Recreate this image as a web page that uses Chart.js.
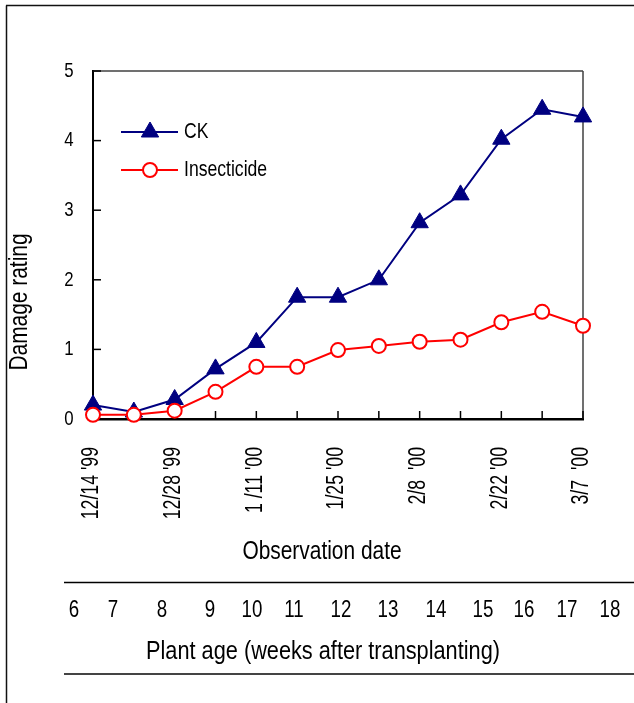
<!DOCTYPE html>
<html><head><meta charset="utf-8">
<script src="https://cdn.jsdelivr.net/npm/chart.js@4.4.1/dist/chart.umd.min.js"></script>
<style>html,body{margin:0;padding:0;background:#fff}canvas{display:block}</style>
</head><body>
<canvas id="c" width="634" height="703"></canvas>
<script>
// ---- data ----
const dates = ["12/14 '99","12/21 '99","12/28 '99","1/4 '00","1 /11 '00","1/18 '00","1/25 '00","2/1 '00","2/8  '00","2/15 '00","2/22 '00","2/29 '00","3/7  '00"];
const ckValues = [0.2, 0.1, 0.28, 0.72, 1.1, 1.75, 1.75, 2.0, 2.82, 3.22, 4.02, 4.45, 4.34];
const insecticideValues = [0.06, 0.06, 0.12, 0.39, 0.75, 0.75, 0.99, 1.05, 1.11, 1.14, 1.39, 1.54, 1.34];
const plantAges = ["6","7","8","9","10","11","12","13","14","15","16","17","18"];
const seriesNames = ["CK", "Insecticide"];
const yMin = 0, yMax = 5, yStep = 1;

const FONT = '"Liberation Sans", Arial, sans-serif';
function txt(ctx, s, x, y, size, align, rot, sx) {
  ctx.save();
  ctx.translate(x, y);
  if (rot) ctx.rotate(rot);
  ctx.scale(sx || 0.82, 1);
  ctx.font = size + 'px ' + FONT;
  ctx.fillStyle = '#000';
  ctx.textAlign = align;
  ctx.textBaseline = 'middle';
  ctx.fillText(s, 0, 0);
  ctx.restore();
}
function line(ctx, x1, y1, x2, y2, w, c) {
  ctx.save();
  ctx.beginPath();
  ctx.moveTo(x1, y1); ctx.lineTo(x2, y2);
  ctx.lineWidth = w; ctx.strokeStyle = c; ctx.stroke();
  ctx.restore();
}

const decor = {
  id: 'decor',
  beforeDatasetsDraw(chart) {
    const ctx = chart.ctx, a = chart.chartArea;
    const xs = chart.scales.x, ys = chart.scales.y;
    line(ctx, a.left, a.top, a.right, a.top, 1.5, '#404040');
    line(ctx, a.right, a.top, a.right, a.bottom, 1.5, '#404040');
    ys.ticks.forEach(t => {
      const py = ys.getPixelForValue(t.value);
      line(ctx, a.left, py, a.left + 8, py, 1.5, '#000');
    });
    dates.forEach((d, i) => {
      const px = xs.getPixelForValue(i);
      line(ctx, px, a.bottom, px, a.bottom - 8, 1.5, '#000');
    });
  },
  afterDraw(chart) {
    const ctx = chart.ctx, a = chart.chartArea;
    const xs = chart.scales.x, ys = chart.scales.y;
    ys.ticks.forEach(t => {
      txt(ctx, String(t.value), a.left - 19.5, ys.getPixelForValue(t.value), 21, 'right', 0, 0.8);
    });
    dates.forEach((d, i) => {
      if (i % 2 === 0) txt(ctx, d, xs.getPixelForValue(i) - 1, a.bottom + 28, 23, 'right', -Math.PI / 2, 0.77);
    });
    txt(ctx, 'Damage rating', 20, 302, 25.5, 'center', -Math.PI / 2, 0.82);
    txt(ctx, 'Observation date', 322, 552, 25.5, 'center', 0, 0.82);
    const ageX = [74, 113, 162, 210, 252, 294, 341, 388, 436, 483, 524, 567, 610];
    plantAges.forEach((s, i) => txt(ctx, s, ageX[i], 610, 24, 'center', 0, 0.78));
    txt(ctx, 'Plant age (weeks after transplanting)', 323, 652, 26.5, 'center', 0, 0.82);
    line(ctx, 64, 582.5, 634, 582.5, 1.5, '#000');
    line(ctx, 64, 674, 634, 674, 2, '#444');
    line(ctx, 6.5, 5.5, 6.5, 703, 1.5, '#111');
    line(ctx, 6, 5.5, 634, 5.5, 1.5, '#111');
    // legend
    const ds = chart.data.datasets;
    const items = [ds[1], ds[0]];
    const ly = [132, 170];
    items.forEach((d, k) => {
      const y = ly[k];
      line(ctx, 121, y, 178, y, 2, d.borderColor);
      ctx.save();
      ctx.beginPath();
      if (d.pointStyle === 'triangle') {
        const r = d.pointRadius;
        let ang = 0;
        ctx.moveTo(150 + Math.sin(ang) * r, y - Math.cos(ang) * r);
        ang += 2 * Math.PI / 3;
        ctx.lineTo(150 + Math.sin(ang) * r, y - Math.cos(ang) * r);
        ang += 2 * Math.PI / 3;
        ctx.lineTo(150 + Math.sin(ang) * r, y - Math.cos(ang) * r);
        ctx.closePath();
      } else {
        ctx.arc(150, y, d.pointRadius, 0, Math.PI * 2);
      }
      ctx.fillStyle = d.pointBackgroundColor;
      ctx.fill();
      ctx.lineWidth = d.pointBorderWidth;
      ctx.strokeStyle = d.pointBorderColor;
      ctx.stroke();
      ctx.restore();
      txt(ctx, d.label, 184, y, 22, 'left', 0, 0.8);
    });
  }
};

new Chart(document.getElementById('c'), {
  type: 'line',
  data: {
    labels: dates,
    datasets: [
      {
        label: seriesNames[1], data: insecticideValues, order: 1,
        borderColor: '#ff0000', borderWidth: 2,
        pointStyle: 'circle', pointRadius: 7, pointBackgroundColor: '#ffffff',
        pointBorderColor: '#ff0000', pointBorderWidth: 2, clip: false, tension: 0
      },
      {
        label: seriesNames[0], data: ckValues, order: 2,
        borderColor: '#000080', borderWidth: 2,
        pointStyle: 'triangle', pointRadius: 10, pointBackgroundColor: '#000080',
        pointBorderColor: '#000080', pointBorderWidth: 1, clip: false, tension: 0
      }
    ]
  },
  options: {
    responsive: false,
    animation: false,
    devicePixelRatio: 1,
    layout: { padding: { left: 0, top: 71, right: 51, bottom: 0 } },
    plugins: { legend: { display: false }, tooltip: { enabled: false } },
    scales: {
      x: {
        type: 'category', offset: false,
        grid: { display: false, drawTicks: false },
        border: { display: true, color: '#000', width: 2.5 },
        ticks: { display: false },
        afterFit(s) { s.height = 703 - 419; }
      },
      y: {
        min: yMin, max: yMax,
        grid: { display: false, drawTicks: false },
        border: { display: true, color: '#000', width: 2 },
        ticks: { display: false, stepSize: yStep },
        afterFit(s) { s.width = 93; }
      }
    }
  },
  plugins: [decor]
});
</script>
</body></html>
